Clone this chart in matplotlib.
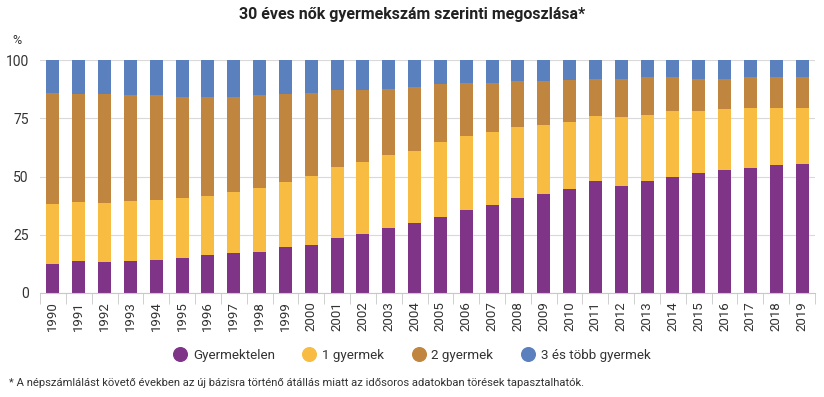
import numpy as np
import matplotlib.pyplot as plt
from matplotlib.lines import Line2D

plt.rcParams['font.family'] = ['Roboto', 'DejaVu Sans']

years = [str(y) for y in range(1990, 2020)]
# cumulative tops (%)
childless = [12.5, 13.8, 13.4, 13.8, 14.2, 15.1, 16.4, 17.2, 17.7, 19.8,
             20.7, 23.6, 25.4, 27.9, 30.1, 32.6, 35.6, 37.7, 40.7, 42.5,
             44.6, 48.0, 45.9, 48.0, 49.7, 51.4, 52.7, 53.6, 54.8, 55.3]
top_one = [38.3, 39.0, 38.6, 39.5, 39.9, 40.7, 41.6, 43.3, 45.0, 47.6,
           50.1, 54.0, 56.1, 59.1, 60.8, 64.7, 67.2, 68.9, 71.1, 71.9,
           73.6, 75.8, 75.4, 76.6, 77.9, 77.9, 78.8, 79.2, 79.2, 79.6]
top_two = [86.0, 85.6, 85.3, 84.8, 84.8, 84.3, 84.3, 84.3, 84.8, 85.2,
           86.0, 87.3, 87.3, 87.7, 88.2, 89.5, 90.3, 90.3, 91.2, 91.2,
           91.6, 92.0, 92.0, 92.5, 92.5, 92.0, 92.0, 92.5, 92.5, 92.5]

one_child = list(np.array(top_one) - np.array(childless))
two_children = list(np.array(top_two) - np.array(top_one))
three_plus = list(100 - np.array(top_two))

labels = ['Gyermektelen', '1 gyermek', '2 gyermek', '3 és több gyermek']
colors = ['#7f3488', '#f9bc42', '#c0853f', '#5b80be']

fig = plt.figure(figsize=(8.24, 3.97), dpi=100)
ax = fig.add_axes([40 / 824, 1 - 293 / 397, 775 / 824, 233 / 397])

x = np.arange(len(years))
bottom = np.zeros(len(years))
for vals, col in zip([childless, one_child, two_children, three_plus], colors):
    ax.bar(x, vals, width=0.5, bottom=bottom, color=col, zorder=2)
    bottom += np.array(vals)

ax.set_xlim(-0.5, len(years) - 0.5)
ax.set_ylim(0, 100)
ax.set_yticks([0, 25, 50, 75, 100])
ax.grid(axis='y', color='#d9d9d9', linewidth=0.8, zorder=0)
for s in ['top', 'right', 'left']:
    ax.spines[s].set_visible(False)
ax.spines['bottom'].set_color('#c8c8c8')
ax.tick_params(axis='y', length=0, labelsize=10, labelcolor='#333333', pad=8)
ax.set_xticks(x)
ax.set_xticklabels(years, rotation=90, fontsize=9.5, color='#333333')
ax.tick_params(axis='x', length=0, pad=6)
ax.set_xticks(np.arange(-0.5, len(years)), minor=True)
ax.tick_params(axis='x', which='minor', length=8, color='#c8c8c8')

fig.text(12 / 824, 1 - 41 / 397, '%', fontsize=9, color='#333333', va='center')
fig.text(0.5, 1 - 15 / 397, '30 éves nők gyermekszám szerinti megoszlása*',
         ha='center', va='center', fontsize=11.5, fontweight='bold', color='#222222')

handles = [Line2D([], [], marker='o', linestyle='', markersize=9.8,
                  markerfacecolor=c, markeredgecolor=c) for c in colors]
fig.legend(handles, labels, loc='center', bbox_to_anchor=(0.5, 1 - 355 / 397),
           ncol=4, frameon=False, fontsize=9.6, handlelength=1.0,
           handletextpad=0.45, columnspacing=2.1, labelcolor='#333333')

fig.text(9 / 824, 1 - 383 / 397,
         '* A népszámlálást követő években az új bázisra történő átállás miatt az idősoros adatokban törések tapasztalhatók.',
         fontsize=8.1, color='#333333', va='center')

fig.savefig('out.png', dpi=100)
